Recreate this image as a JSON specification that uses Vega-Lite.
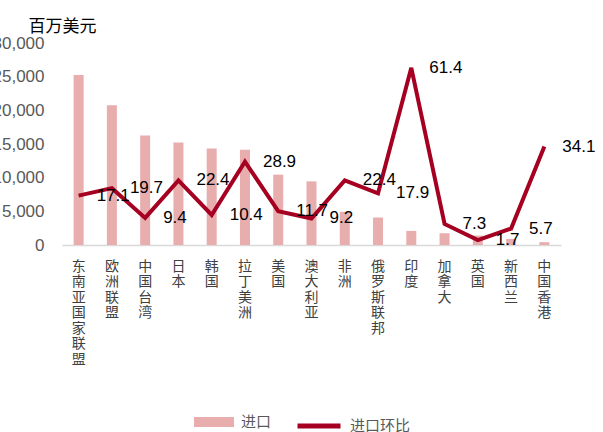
{
  "$schema": "https://vega.github.io/schema/vega-lite/v6.json",
  "autosize": {"type": "none"},
  "width": 499,
  "height": 202,
  "padding": {"left": 62, "top": 43, "right": 42, "bottom": 187},
  "background": "white",
  "config": {"view": {"stroke": null}, "font": "Liberation Sans"},
  "data": {"values": [
    {"region": "东南亚国家联盟", "import": 25250, "mom": 17.1},
    {"region": "欧洲联盟", "import": 20750, "mom": 19.7},
    {"region": "中国台湾", "import": 16270, "mom": 9.4},
    {"region": "日本", "import": 15220, "mom": 22.4},
    {"region": "韩国", "import": 14330, "mom": 10.4},
    {"region": "拉丁美洲", "import": 14130, "mom": 28.9},
    {"region": "美国", "import": 10450, "mom": 11.7},
    {"region": "澳大利亚", "import": 9450, "mom": 9.2},
    {"region": "非洲", "import": 4930, "mom": 22.4},
    {"region": "俄罗斯联邦", "import": 4080, "mom": 17.9},
    {"region": "印度", "import": 2090, "mom": 61.4},
    {"region": "加拿大", "import": 1750, "mom": 7.3},
    {"region": "英国", "import": 1400, "mom": 1.7},
    {"region": "新西兰", "import": 900, "mom": 5.7},
    {"region": "中国香港", "import": 420, "mom": 34.1}
  ]},
  "encoding": {
    "x": {
      "field": "region", "type": "nominal", "sort": null,
      "scale": {"paddingInner": 0, "paddingOuter": 0},
      "axis": {
        "title": null, "labelAngle": 0, "ticks": false,
        "labelExpr": "split(datum.label, '')",
        "labelFont": "Noto Sans CJK SC", "labelFontSize": 14, "labelLineHeight": 15.5,
        "labelBaseline": "top", "labelPadding": 14, "labelColor": "#404040",
        "domainColor": "#D9D9D9", "domainWidth": 1.5
      }
    }
  },
  "layer": [
    {
      "mark": {"type": "bar", "size": 10, "color": "#E8ADAD"},
      "encoding": {
        "y": {
          "field": "import", "type": "quantitative",
          "scale": {"domain": [0, 30000]},
          "axis": {
            "values": [0, 5000, 10000, 15000, 20000, 25000, 30000],
            "labelExpr": "format(datum.value, ',')",
            "grid": false, "domain": false, "ticks": false,
            "labelFont": "Liberation Sans", "labelFontSize": 17, "labelColor": "#595959", "labelPadding": 18,
            "title": "百万美元", "titleAngle": 0, "titleX": -34, "titleY": -17,
            "titleAlign": "left", "titleBaseline": "middle",
            "titleFont": "Noto Sans CJK SC", "titleFontSize": 17, "titleFontWeight": "normal", "titleColor": "#000000"
          }
        },
        "color": {
          "datum": "进口", "type": "nominal",
          "scale": {"domain": ["进口"], "range": ["#E8ADAD"]},
          "legend": {
            "title": null, "orient": "none", "legendX": 132, "legendY": 359, "padding": 0,
            "symbolType": "M-1,-0.25H1V0.25H-1Z", "symbolSize": 1600, "symbolStrokeWidth": 0,
            "labelOffset": 7, "labelFont": "Noto Sans CJK SC", "labelFontSize": 15, "labelColor": "#595959"
          }
        }
      }
    },
    {
      "layer": [
        {
          "mark": {"type": "line", "strokeWidth": 4, "strokeJoin": "miter"},
          "encoding": {
            "y": {
              "field": "mom", "type": "quantitative",
              "scale": {"domain": [0, 70]},
              "axis": {
                "orient": "right",
                "values": [0, 10, 20, 30, 40, 50, 60, 70],
                "grid": false, "domain": false, "ticks": false,
                "labelFont": "Liberation Sans", "labelFontSize": 17, "labelColor": "#595959", "labelPadding": 17,
                "title": "%", "titleAngle": 0, "titleX": 2, "titleY": -18,
                "titleAlign": "center", "titleBaseline": "middle",
                "titleFont": "Liberation Sans", "titleFontSize": 17, "titleFontWeight": "normal", "titleColor": "#000000"
              }
            },
            "stroke": {
              "datum": "进口环比", "type": "nominal",
              "scale": {"domain": ["进口环比"], "range": ["#A50021"]},
              "legend": {
                "title": null, "orient": "none", "legendX": 233, "legendY": 359, "padding": 0,
                "symbolType": "stroke", "symbolSize": 1849, "symbolStrokeWidth": 5,
                "labelOffset": 7, "labelFont": "Noto Sans CJK SC", "labelFontSize": 15, "labelColor": "#595959"
              }
            }
          }
        },
        {
          "mark": {"type": "text", "align": "left", "baseline": "middle", "dx": 18, "fontSize": 17, "font": "Liberation Sans", "color": "#000000"},
          "encoding": {
            "y": {"field": "mom", "type": "quantitative", "scale": {"domain": [0, 70]}, "axis": null},
            "text": {"field": "mom", "type": "quantitative", "format": ".1f"}
          }
        }
      ]
    }
  ],
  "resolve": {"scale": {"y": "independent"}}
}
